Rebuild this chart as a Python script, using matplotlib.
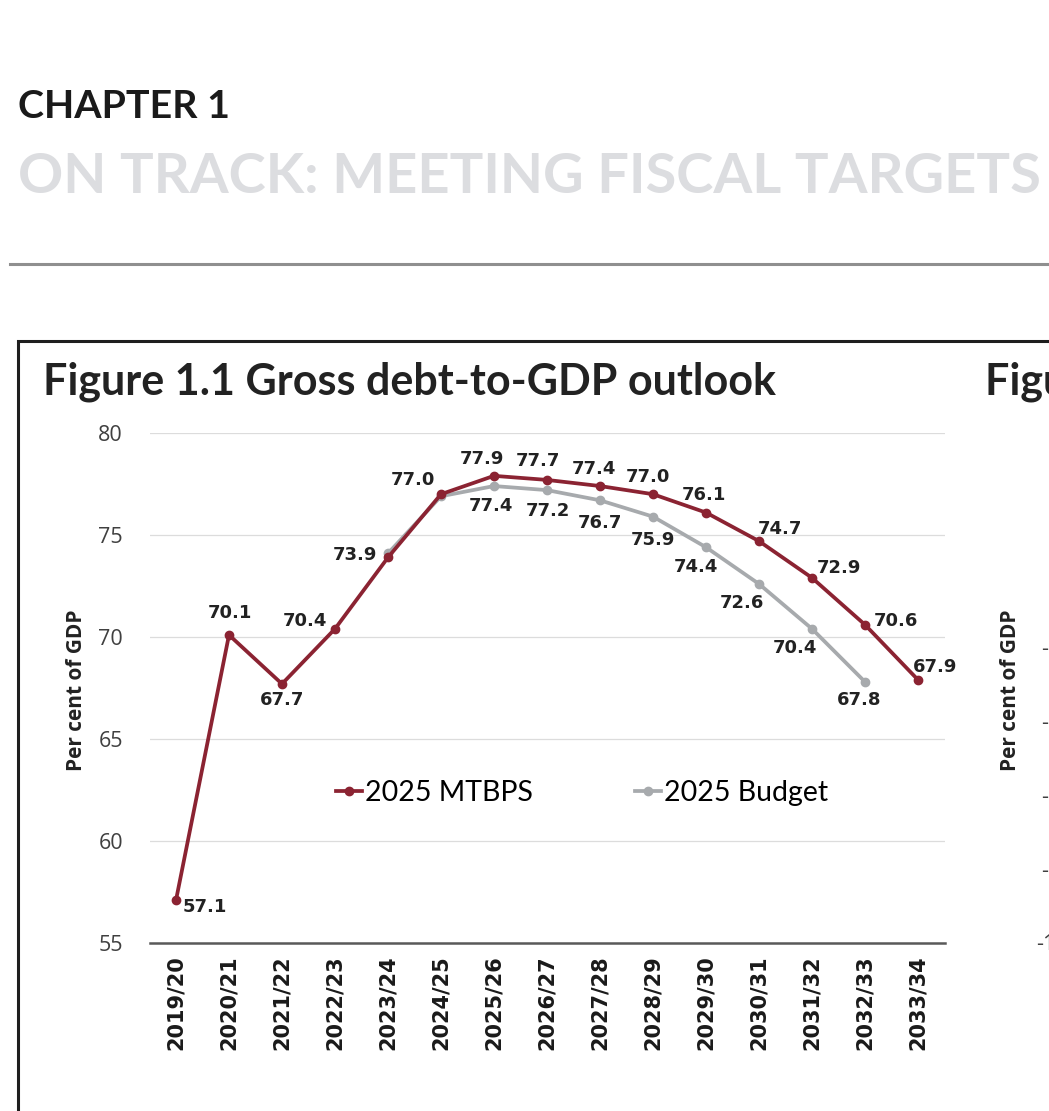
import matplotlib
matplotlib.use("Agg")
import matplotlib.pyplot as plt
from matplotlib.lines import Line2D
import numpy as np

plt.rcParams['font.family'] = ['Lato', 'DejaVu Sans']

# Datos
years = ["2019/20", "2020/21", "2021/22", "2022/23", "2023/24", "2024/25",
         "2025/26", "2026/27", "2027/28", "2028/29", "2029/30", "2030/31",
         "2031/32", "2032/33", "2033/34"]
mtbps = [57.1, 70.1, 67.7, 70.4, 73.9, 77.0, 77.9, 77.7, 77.4, 77.0,
         76.1, 74.7, 72.9, 70.6, 67.9]
budget_years = years[4:14]
budget = [74.1, 76.9, 77.4, 77.2, 76.7, 75.9, 74.4, 72.6, 70.4, 67.8]
budget_labelled = [False, False, True, True, True, True, True, True, True, True]

# Posicion de las etiquetas (pixeles respecto al punto)
off_mtbps = [(29, -7), (1, 22), (0, -16), (-30, 8), (-33, 2), (-28, 14),
             (-12, 17), (-9, 19), (-6, 17), (-5, 17), (-2, 18), (21, 12),
             (27, 10), (31, 4), (17, 13)]
off_budget = [(0, 0), (0, 0), (-3, -20), (1, -21), (0, -23), (0, -23),
              (-10, -20), (-17, -19), (-17, -19), (-6, -18)]

RED = "#8b2332"
GREY = "#a7aaad"
W, H = 1049, 1111

fig = plt.figure(figsize=(W / 100, H / 100), dpi=100)
fig.patch.set_facecolor("white")


def fx(x):
    return x / W


def fy(y):
    return 1 - y / H


def fit(t, width):
    r = fig.canvas.get_renderer()
    bb = t.get_window_extent(renderer=r)
    t.set_fontsize(t.get_fontsize() * width / bb.width)


# Cabecera
t1 = fig.text(fx(18), fy(118), "CHAPTER 1", fontsize=28, fontweight="bold",
              color="#1a1a1a", va="baseline")
fit(t1, 212)
t2 = fig.text(fx(18), fy(193), "ON TRACK: MEETING FISCAL TARGETS", fontsize=38,
              fontweight="bold", color="#dcdde0", va="baseline")
fit(t2, 1022)
fig.add_artist(Line2D([fx(10), 1], [fy(264), fy(264)], color="#8f8f8f",
                      lw=2.2, transform=fig.transFigure))

# Recuadro
fig.add_artist(Line2D([fx(18), fx(18), 1.0], [0, fy(341), fy(341)],
                      color="#1e1e1e", lw=2.2, transform=fig.transFigure,
                      solid_joinstyle="miter"))
t3 = fig.text(fx(43), fy(395), "Figure 1.1 Gross debt-to-GDP outlook",
              fontsize=30, fontweight="bold", color="#222222", va="baseline")
fit(t3, 730)
fig.text(fx(985), fy(395), "Figure 1.2", fontsize=t3.get_fontsize(),
         fontweight="bold", color="#222222", va="baseline")

# Grafico
ax = fig.add_axes([fx(149.5), fy(943), (944.5 - 149.5) / W, (943 - 433) / H])
x = np.arange(len(years))
bx = np.array([years.index(y) for y in budget_years])

ax.plot(bx, budget, color=GREY, lw=2.7, marker="o", markersize=6,
        label="2025 Budget", zorder=2, clip_on=False)
ax.plot(x, mtbps, color=RED, lw=2.7, marker="o", markersize=6,
        label="2025 MTBPS", zorder=3, clip_on=False)

for xi, v, o in zip(x, mtbps, off_mtbps):
    ax.annotate(f"{v:.1f}", (xi, v), xytext=o, textcoords="offset pixels",
                ha="center", va="center", fontsize=13, fontweight="bold",
                family="DejaVu Sans", color="#222222", zorder=5)
for xi, v, o, show in zip(bx, budget, off_budget, budget_labelled):
    if show:
        ax.annotate(f"{v:.1f}", (xi, v), xytext=o, textcoords="offset pixels",
                    ha="center", va="center", fontsize=13, fontweight="bold",
                    family="DejaVu Sans", color="#222222", zorder=5)

ax.set_xlim(-0.5, len(years) - 0.5)
ax.set_ylim(55, 80)
ax.set_yticks([55, 60, 65, 70, 75, 80])
ax.set_xticks(x)
ax.set_xticklabels(years, rotation=90, fontsize=15, fontweight="bold",
                   family="DejaVu Sans", color="#1a1a1a")
for lab in ax.get_yticklabels():
    lab.set_family("Open Sans")
    lab.set_fontsize(15.5)
    lab.set_color("#404040")
ax.tick_params(axis="both", length=0)
ax.tick_params(axis="y", pad=19)
ax.tick_params(axis="x", pad=9)
ax.grid(axis="y", color="#dcdcdc", lw=0.9)
ax.set_axisbelow(True)
for s in ["top", "right", "left"]:
    ax.spines[s].set_visible(False)
ax.spines["bottom"].set_color("#595959")
ax.spines["bottom"].set_linewidth(1.8)
ax.spines["bottom"].set_zorder(1)

fig.text(fx(77), fy(690), "Per cent of GDP", rotation=90, ha="center",
         va="center", fontsize=15, fontweight="bold", family="Open Sans",
         color="#222222")

h, l = ax.get_legend_handles_labels()
ax.legend([h[1], h[0]], [l[1], l[0]], loc="center",
          bbox_to_anchor=(fx(582), fy(793)), bbox_transform=fig.transFigure,
          ncol=2, frameon=False, fontsize=20.5, handlelength=0.9,
          handletextpad=0.1, columnspacing=3.6, borderpad=0)

# Segundo grafico (recortado)
fig.text(fx(1010), fy(690), "Per cent of GDP", rotation=90, ha="center",
         va="center", fontsize=15, fontweight="bold", family="Open Sans",
         color="#222222")
for yy in [650, 724, 797, 871]:
    fig.text(fx(1041), fy(yy), "-", fontsize=15.5, family="Open Sans",
             color="#404040", va="center")
fig.text(fx(1036), fy(945), "-10", fontsize=15.5, family="Open Sans",
         color="#404040", va="center")

fig.savefig("out.png", dpi=100)
